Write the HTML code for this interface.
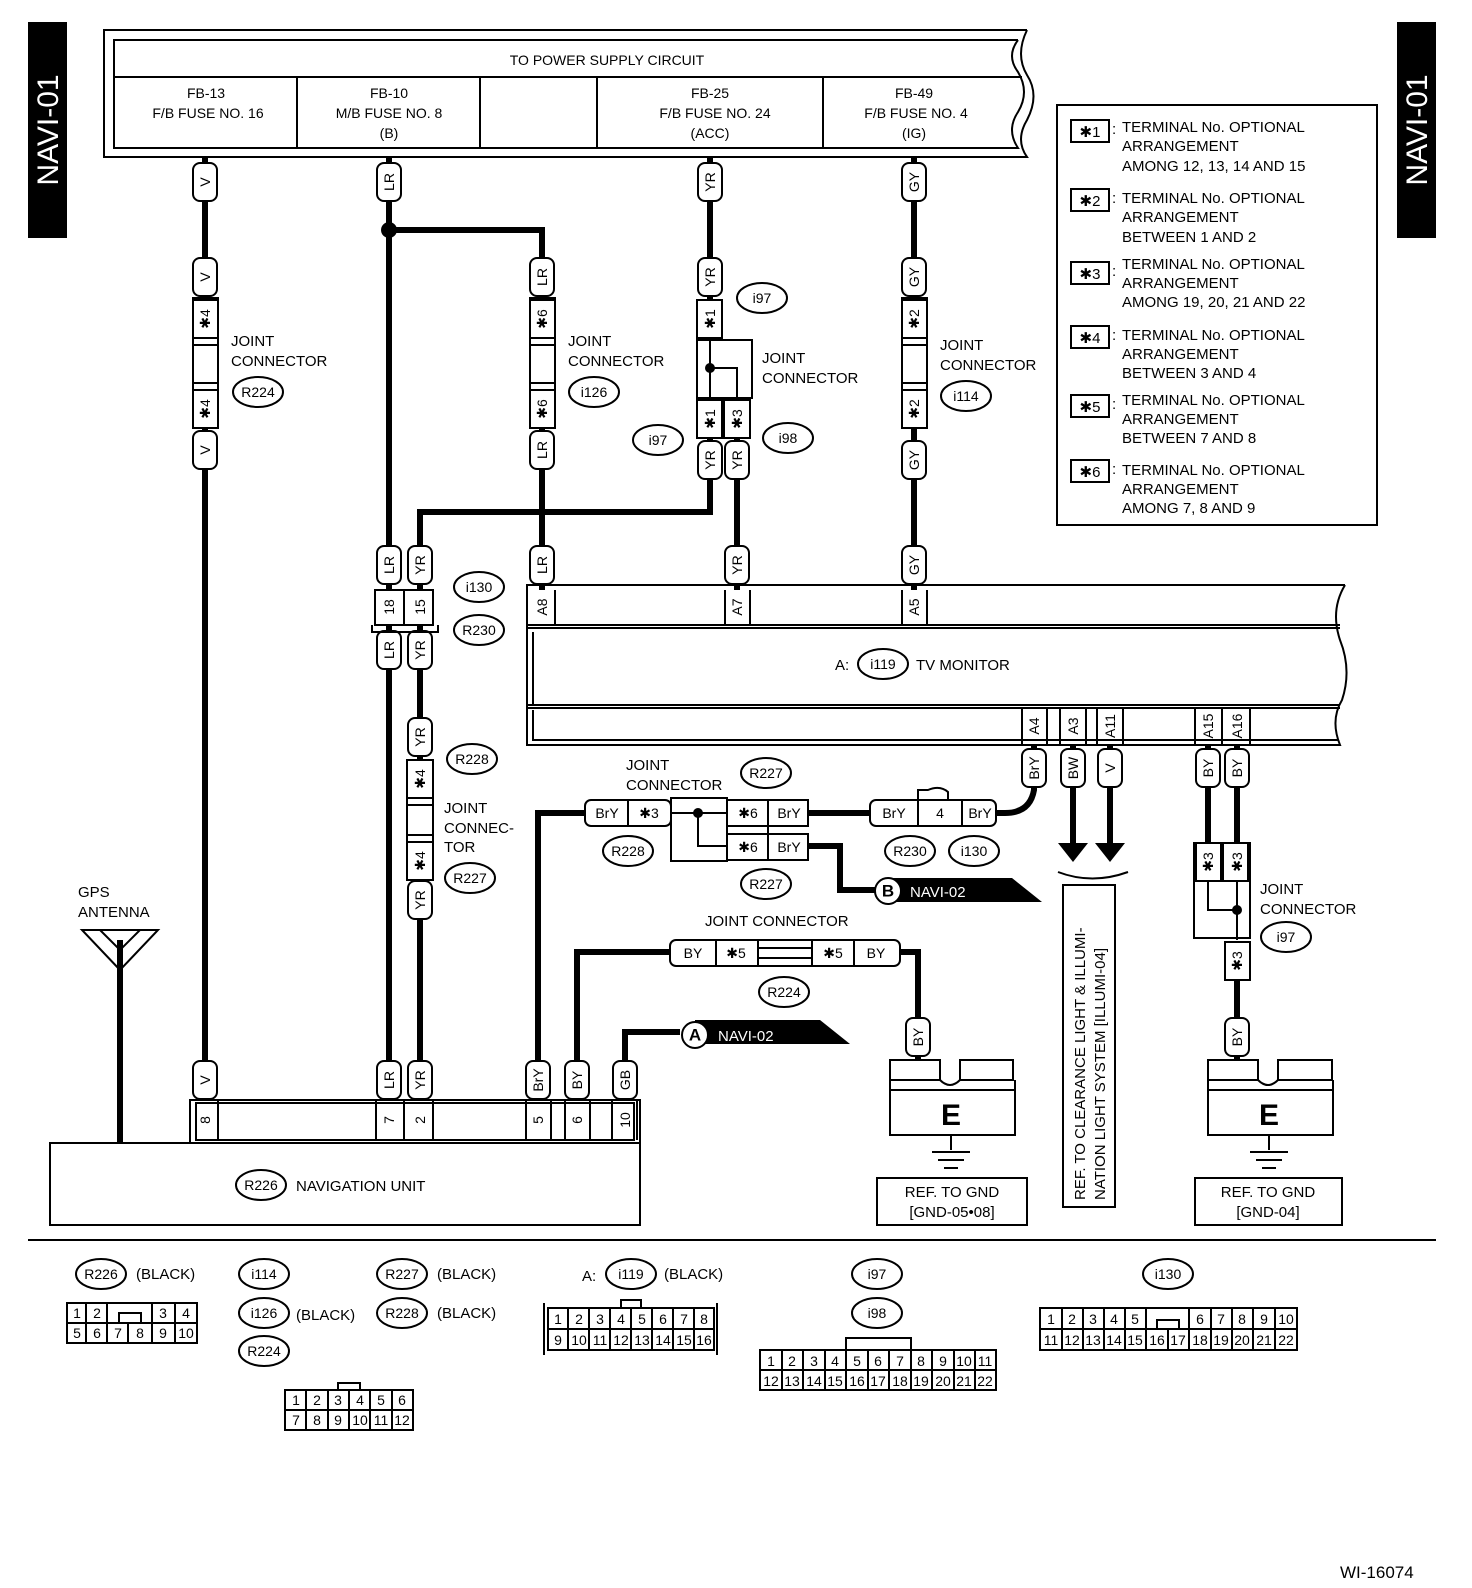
<!DOCTYPE html>
<html><head><meta charset="utf-8"><style>
html,body{margin:0;padding:0;background:#fff}
svg{display:block}
text{font-family:"Liberation Sans",sans-serif;fill:#000}
.w{stroke:#000;stroke-width:6;fill:none}
.l{stroke:#000;stroke-width:2;fill:none}
.b{stroke:#000;stroke-width:2;fill:#fff}
.s{font-size:15px}
.m{font-size:14px}
.lb{font-size:14px;text-anchor:middle;dominant-baseline:central}
</style></head><body>
<svg width="1472" height="1588" viewBox="0 0 1472 1588" xmlns="http://www.w3.org/2000/svg">
<defs>
<g id="tag"><rect x="-12" y="-19" width="24" height="38" rx="7" class="b"/></g>
<g id="ov"><ellipse cx="0" cy="0" rx="25" ry="15" class="b"/></g>
</defs>

<rect x="28" y="22" width="39" height="216" fill="#000"/>
<text transform="translate(58,130) rotate(-90)" style="font-size:30px;fill:#fff;text-anchor:middle">NAVI-01</text>
<rect x="1397" y="22" width="39" height="216" fill="#000"/>
<text transform="translate(1427,130) rotate(-90)" style="font-size:30px;fill:#fff;text-anchor:middle">NAVI-01</text>

<path class="l" d="M1027,30 H104 V157 H1027 Q1015,140 1027,120 Q1040,95 1027,75 Q1015,55 1027,30"/>
<path class="l" d="M1018,40 H114 V148 H1018 Q1006,130 1018,112 Q1030,92 1018,72 Q1006,56 1018,40"/>
<line class="l" x1="114" y1="77" x2="1022" y2="77"/>
<line class="l" x1="297" y1="77" x2="297" y2="148"/>
<line class="l" x1="480" y1="77" x2="480" y2="148"/>
<line class="l" x1="597" y1="77" x2="597" y2="148"/>
<line class="l" x1="823" y1="77" x2="823" y2="148"/>
<text x="607" y="65" class="m" text-anchor="middle">TO POWER SUPPLY CIRCUIT</text>
<g class="m" text-anchor="middle">
<text x="206" y="98">FB-13</text><text x="208" y="118">F/B FUSE NO. 16</text>
<text x="389" y="98">FB-10</text><text x="389" y="118">M/B FUSE NO. 8</text><text x="389" y="138">(B)</text>
<text x="710" y="98">FB-25</text><text x="715" y="118">F/B FUSE NO. 24</text><text x="710" y="138">(ACC)</text>
<text x="914" y="98">FB-49</text><text x="916" y="118">F/B FUSE NO. 4</text><text x="914" y="138">(IG)</text>
</g>

<path class="w" d="M205,157 V1100"/>
<path class="w" d="M389,157 V1100"/>
<path class="w" d="M389,230 H542 V590"/>
<circle cx="389" cy="230" r="8"/>
<path class="w" d="M710,157 V300"/>
<path class="w" d="M710,420 V512 H420 V1100"/>
<path class="w" d="M737,420 V590"/>
<path class="w" d="M914,157 V590"/>
<path class="w" d="M1034,745 V790 Q1030,813 1005,813 H990"/>
<path class="w" d="M870,813 H808"/>
<path class="w" d="M1073,745 V845"/>
<path class="w" d="M1110,745 V845"/>
<path class="w" d="M1208,745 V845"/>
<path class="w" d="M1237,745 V845"/>
<path class="w" d="M1237,980 V1060"/>
<path class="w" d="M538,1100 V813 H585"/>
<path class="w" d="M577,1100 V952 H670"/>
<path class="w" d="M625,1100 V1032 H680"/>
<path class="w" d="M808,846 H840 V890 H875"/>
<path class="w" d="M900,952 H918 V1060"/>
<path class="w" d="M120,940 V1143"/>
<path d="M1058,843 L1088,843 L1073,862Z"/>
<path d="M1095,843 L1125,843 L1110,862Z"/>
<path class="l" d="M1058,872 Q1092,885 1128,872"/>

<g class="lb">
<use href="#tag" x="205" y="182"/><text transform="translate(205,182) rotate(-90)">V</text>
<use href="#tag" x="205" y="277"/><text transform="translate(205,277) rotate(-90)">V</text>
<use href="#tag" x="205" y="450"/><text transform="translate(205,450) rotate(-90)">V</text>
<use href="#tag" x="205" y="1080"/><text transform="translate(205,1080) rotate(-90)">V</text>
<use href="#tag" x="389" y="182"/><text transform="translate(389,182) rotate(-90)">LR</text>
<use href="#tag" x="542" y="277"/><text transform="translate(542,277) rotate(-90)">LR</text>
<use href="#tag" x="542" y="450"/><text transform="translate(542,450) rotate(-90)">LR</text>
<use href="#tag" x="542" y="565"/><text transform="translate(542,565) rotate(-90)">LR</text>
<use href="#tag" x="389" y="565"/><text transform="translate(389,565) rotate(-90)">LR</text>
<use href="#tag" x="420" y="565"/><text transform="translate(420,565) rotate(-90)">YR</text>
<use href="#tag" x="389" y="650"/><text transform="translate(389,650) rotate(-90)">LR</text>
<use href="#tag" x="420" y="650"/><text transform="translate(420,650) rotate(-90)">YR</text>
<use href="#tag" x="420" y="737"/><text transform="translate(420,737) rotate(-90)">YR</text>
<use href="#tag" x="420" y="900"/><text transform="translate(420,900) rotate(-90)">YR</text>
<use href="#tag" x="389" y="1080"/><text transform="translate(389,1080) rotate(-90)">LR</text>
<use href="#tag" x="420" y="1080"/><text transform="translate(420,1080) rotate(-90)">YR</text>
<use href="#tag" x="710" y="182"/><text transform="translate(710,182) rotate(-90)">YR</text>
<use href="#tag" x="710" y="277"/><text transform="translate(710,277) rotate(-90)">YR</text>
<use href="#tag" x="710" y="460"/><text transform="translate(710,460) rotate(-90)">YR</text>
<use href="#tag" x="737" y="460"/><text transform="translate(737,460) rotate(-90)">YR</text>
<use href="#tag" x="737" y="565"/><text transform="translate(737,565) rotate(-90)">YR</text>
<use href="#tag" x="914" y="182"/><text transform="translate(914,182) rotate(-90)">GY</text>
<use href="#tag" x="914" y="277"/><text transform="translate(914,277) rotate(-90)">GY</text>
<use href="#tag" x="914" y="460"/><text transform="translate(914,460) rotate(-90)">GY</text>
<use href="#tag" x="914" y="565"/><text transform="translate(914,565) rotate(-90)">GY</text>
<use href="#tag" x="1034" y="768"/><text transform="translate(1034,768) rotate(-90)">BrY</text>
<use href="#tag" x="1073" y="768"/><text transform="translate(1073,768) rotate(-90)">BW</text>
<use href="#tag" x="1110" y="768"/><text transform="translate(1110,768) rotate(-90)">V</text>
<use href="#tag" x="1208" y="768"/><text transform="translate(1208,768) rotate(-90)">BY</text>
<use href="#tag" x="1237" y="768"/><text transform="translate(1237,768) rotate(-90)">BY</text>
<use href="#tag" x="1237" y="1037"/><text transform="translate(1237,1037) rotate(-90)">BY</text>
<use href="#tag" x="918" y="1037"/><text transform="translate(918,1037) rotate(-90)">BY</text>
<use href="#tag" x="538" y="1080"/><text transform="translate(538,1080) rotate(-90)">BrY</text>
<use href="#tag" x="577" y="1080"/><text transform="translate(577,1080) rotate(-90)">BY</text>
<use href="#tag" x="625" y="1080"/><text transform="translate(625,1080) rotate(-90)">GB</text>
</g>

<g class="l">
<rect x="193" y="298" width="25" height="130" fill="#fff"/><rect x="193" y="300" width="25" height="38"/><rect x="193" y="390" width="25" height="38"/>
<line x1="193" y1="345" x2="218" y2="345"/><line x1="193" y1="383" x2="218" y2="383"/>
<rect x="530" y="298" width="25" height="130" fill="#fff"/><rect x="530" y="300" width="25" height="38"/><rect x="530" y="390" width="25" height="38"/>
<line x1="530" y1="345" x2="555" y2="345"/><line x1="530" y1="383" x2="555" y2="383"/>
<rect x="902" y="298" width="25" height="130" fill="#fff"/><rect x="902" y="300" width="25" height="38"/><rect x="902" y="390" width="25" height="38"/>
<line x1="902" y1="345" x2="927" y2="345"/><line x1="902" y1="383" x2="927" y2="383"/>
<rect x="697" y="300" width="25" height="38" fill="#fff"/>
<rect x="697" y="340" width="55" height="58" fill="#fff"/>
<rect x="697" y="400" width="25" height="38" fill="#fff"/><rect x="724" y="400" width="26" height="38" fill="#fff"/>
<path d="M710,338 V400 M710,368 H737 V400"/>
<rect x="407" y="760" width="26" height="120" fill="#fff"/><rect x="407" y="760" width="26" height="38"/><rect x="407" y="842" width="26" height="38"/>
<line x1="407" y1="805" x2="433" y2="805"/><line x1="407" y1="835" x2="433" y2="835"/>
<rect x="1194" y="843" width="56" height="95" fill="#fff"/><rect x="1196" y="843" width="25" height="38"/><rect x="1223" y="843" width="25" height="38"/>
<path d="M1208,881 V910 H1237 M1237,881 V940"/>
<rect x="1225" y="942" width="25" height="38" fill="#fff"/>
<rect x="585" y="800" width="86" height="26" rx="6" fill="#fff"/><line x1="628" y1="800" x2="628" y2="826"/>
<rect x="671" y="798" width="56" height="63" fill="#fff"/>
<rect x="727" y="800" width="81" height="26" fill="#fff"/><rect x="727" y="834" width="81" height="26" fill="#fff"/>
<line x1="768" y1="800" x2="768" y2="860"/>
<path d="M671,813 H727 M698,813 V846 H727"/>
<rect x="870" y="800" width="126" height="26" rx="6" fill="#fff"/><path d="M918,800 V790 H928 Q940,785 948,792 V800 M918,800 V826 M962,800 V826"/>
<rect x="670" y="940" width="230" height="26" rx="6" fill="#fff"/><path d="M716,940 V966 M758,940 V966 M812,940 V966 M854,940 V966 M758,948 H812 M758,958 H812"/>
</g>
<circle cx="710" cy="368" r="5"/><circle cx="698" cy="813" r="5"/><circle cx="1237" cy="910" r="5"/>
<g class="lb">
<text transform="translate(205,319) rotate(-90)">✱4</text><text transform="translate(205,409) rotate(-90)">✱4</text>
<text transform="translate(542,319) rotate(-90)">✱6</text><text transform="translate(542,409) rotate(-90)">✱6</text>
<text transform="translate(914,319) rotate(-90)">✱2</text><text transform="translate(914,409) rotate(-90)">✱2</text>
<text transform="translate(710,319) rotate(-90)">✱1</text><text transform="translate(710,419) rotate(-90)">✱1</text><text transform="translate(737,419) rotate(-90)">✱3</text>
<text transform="translate(420,779) rotate(-90)">✱4</text><text transform="translate(420,861) rotate(-90)">✱4</text>
<text transform="translate(1208,862) rotate(-90)">✱3</text><text transform="translate(1237,862) rotate(-90)">✱3</text><text transform="translate(1237,961) rotate(-90)">✱3</text>
<text x="607" y="813">BrY</text><text x="649" y="813">✱3</text>
<text x="748" y="813">✱6</text><text x="789" y="813">BrY</text>
<text x="748" y="847">✱6</text><text x="789" y="847">BrY</text>
<text x="894" y="813">BrY</text><text x="940" y="813">4</text><text x="980" y="813">BrY</text>
<text x="693" y="953">BY</text><text x="736" y="953">✱5</text><text x="833" y="953">✱5</text><text x="876" y="953">BY</text>
</g>

<rect x="375" y="590" width="58" height="35" class="b"/><line class="l" x1="404" y1="590" x2="404" y2="625"/>
<path class="l" d="M372,625 V632 H438 V625"/>
<g class="lb"><text transform="translate(389,607) rotate(-90)">18</text><text transform="translate(420,607) rotate(-90)">15</text></g>

<path class="l" d="M1345,585 H527 V745 H1340 Q1330,720 1342,700 Q1352,670 1340,640 Q1330,610 1345,585"/>
<line class="l" x1="527" y1="625" x2="1340" y2="625"/>
<line class="l" x1="527" y1="705" x2="1340" y2="705"/>
<path class="l" d="M533,632 V705 M533,710 V740 H1338"/>
<line class="l" x1="527" y1="628" x2="1340" y2="628"/><line class="l" x1="527" y1="708" x2="1340" y2="708"/>
<g class="l"><path d="M555,590 V625 M725,590 V625 M750,590 V625 M902,590 V625 M927,590 V625"/>
<path d="M1022,708 V745 M1047,708 V745 M1060,708 V745 M1086,708 V745 M1097,708 V745 M1123,708 V745 M1195,708 V745 M1222,708 V745 M1250,708 V745"/></g>
<g class="lb">
<text transform="translate(542,607) rotate(-90)">A8</text><text transform="translate(737,607) rotate(-90)">A7</text><text transform="translate(914,607) rotate(-90)">A5</text>
<text transform="translate(1034,726) rotate(-90)">A4</text><text transform="translate(1073,726) rotate(-90)">A3</text><text transform="translate(1110,726) rotate(-90)">A11</text>
<text transform="translate(1208,726) rotate(-90)">A15</text><text transform="translate(1237,726) rotate(-90)">A16</text>
</g>
<text x="835" y="670" class="s">A:</text><use href="#ov" x="883" y="664"/><text x="883" y="669" class="m" text-anchor="middle">i119</text>
<text x="916" y="670" class="s">TV MONITOR</text>

<rect x="50" y="1143" width="590" height="82" class="b"/>
<rect x="190" y="1100" width="450" height="43" class="b"/><rect x="196" y="1103" width="438" height="37" class="l"/>
<path class="l" d="M218,1100 V1140 M376,1100 V1140 M404,1100 V1140 M433,1100 V1140 M526,1100 V1140 M551,1100 V1140 M565,1100 V1140 M590,1100 V1140 M612,1100 V1140 M637,1100 V1140"/>
<g class="lb"><text transform="translate(205,1120) rotate(-90)">8</text><text transform="translate(389,1120) rotate(-90)">7</text><text transform="translate(420,1120) rotate(-90)">2</text><text transform="translate(538,1120) rotate(-90)">5</text><text transform="translate(577,1120) rotate(-90)">6</text><text transform="translate(625,1120) rotate(-90)">10</text></g>
<use href="#ov" x="261" y="1185"/><text x="261" y="1190" class="m" text-anchor="middle">R226</text>
<text x="296" y="1191" class="s">NAVIGATION UNIT</text>

<text x="78" y="897" class="s">GPS</text><text x="78" y="917" class="s">ANTENNA</text>
<path class="l" d="M82,930 H158 L120,970 Z M100,930 L120,950 L140,930"/>

<path d="M695,1020 H820 L850,1044 H695 Z"/><circle cx="695" cy="1035" r="13" class="b"/><text x="695" y="1035" class="lb" style="font-size:17px;font-weight:bold">A</text><text x="718" y="1041" style="font-size:15px;fill:#fff">NAVI-02</text>
<path d="M888,878 H1012 L1042,902 H888 Z"/><circle cx="888" cy="891" r="13" class="b"/><text x="888" y="891" class="lb" style="font-size:17px;font-weight:bold">B</text><text x="910" y="897" style="font-size:15px;fill:#fff">NAVI-02</text>

<g class="m" text-anchor="middle">
<use href="#ov" x="258" y="392"/><text x="258" y="397">R224</text>
<use href="#ov" x="594" y="392"/><text x="594" y="397">i126</text>
<use href="#ov" x="762" y="298"/><text x="762" y="303">i97</text>
<use href="#ov" x="658" y="440"/><text x="658" y="445">i97</text>
<use href="#ov" x="788" y="438"/><text x="788" y="443">i98</text>
<use href="#ov" x="966" y="396"/><text x="966" y="401">i114</text>
<use href="#ov" x="479" y="587"/><text x="479" y="592">i130</text>
<use href="#ov" x="479" y="630"/><text x="479" y="635">R230</text>
<use href="#ov" x="472" y="759"/><text x="472" y="764">R228</text>
<use href="#ov" x="470" y="878"/><text x="470" y="883">R227</text>
<use href="#ov" x="766" y="773"/><text x="766" y="778">R227</text>
<use href="#ov" x="628" y="851"/><text x="628" y="856">R228</text>
<use href="#ov" x="766" y="884"/><text x="766" y="889">R227</text>
<use href="#ov" x="910" y="851"/><text x="910" y="856">R230</text>
<use href="#ov" x="974" y="851"/><text x="974" y="856">i130</text>
<use href="#ov" x="784" y="992"/><text x="784" y="997">R224</text>
<use href="#ov" x="1286" y="937"/><text x="1286" y="942">i97</text>
</g>
<g class="s">
<text x="231" y="346">JOINT</text><text x="231" y="366">CONNECTOR</text>
<text x="568" y="346">JOINT</text><text x="568" y="366">CONNECTOR</text>
<text x="762" y="363">JOINT</text><text x="762" y="383">CONNECTOR</text>
<text x="940" y="350">JOINT</text><text x="940" y="370">CONNECTOR</text>
<text x="444" y="813">JOINT</text><text x="444" y="833">CONNEC-</text><text x="444" y="852">TOR</text>
<text x="626" y="770">JOINT</text><text x="626" y="790">CONNECTOR</text>
<text x="705" y="926">JOINT CONNECTOR</text>
<text x="1260" y="894">JOINT</text><text x="1260" y="914">CONNECTOR</text>
</g>

<g class="l">
<path d="M890,1060 H940 V1080 H890 Z M960,1060 H1013 V1080 H960 Z" fill="#fff"/>
<path d="M890,1080 V1135 H1015 V1080 M940,1080 Q950,1090 960,1080 M890,1090 H1015 M951,1135 V1150"/>
<path d="M932,1152 H970 M938,1160 H964 M944,1168 H958"/>
<path d="M1208,1060 H1258 V1080 H1208 Z M1278,1060 H1332 V1080 H1278 Z" fill="#fff"/>
<path d="M1208,1080 V1135 H1333 V1080 M1258,1080 Q1268,1090 1278,1080 M1208,1090 H1333 M1269,1135 V1150"/>
<path d="M1250,1152 H1288 M1256,1160 H1282 M1262,1168 H1276"/>
</g>
<text x="951" y="1125" style="font-size:30px;font-weight:bold" text-anchor="middle">E</text>
<text x="1269" y="1125" style="font-size:30px;font-weight:bold" text-anchor="middle">E</text>
<rect x="877" y="1178" width="150" height="47" class="b"/><text x="952" y="1197" class="s" text-anchor="middle">REF. TO GND</text><text x="952" y="1217" class="s" text-anchor="middle">[GND-05•08]</text>
<rect x="1195" y="1178" width="147" height="47" class="b"/><text x="1268" y="1197" class="s" text-anchor="middle">REF. TO GND</text><text x="1268" y="1217" class="s" text-anchor="middle">[GND-04]</text>
<rect x="1063" y="885" width="52" height="322" class="b"/>
<text transform="translate(1085,1200) rotate(-90)" class="s">REF. TO CLEARANCE LIGHT &amp; ILLUMI-</text>
<text transform="translate(1105,1200) rotate(-90)" class="s">NATION LIGHT SYSTEM [ILLUMI-04]</text>

<rect x="1057" y="105" width="320" height="420" class="b"/>
<g class="s">
<rect x="1071" y="120" width="38" height="22" class="l"/><text x="1090" y="137" text-anchor="middle">✱1</text><text x="1112" y="134">:</text>
<text x="1122" y="132">TERMINAL No. OPTIONAL</text><text x="1122" y="151">ARRANGEMENT</text><text x="1122" y="171">AMONG 12, 13, 14  AND 15</text>
<rect x="1071" y="189" width="38" height="22" class="l"/><text x="1090" y="206" text-anchor="middle">✱2</text><text x="1112" y="203">:</text>
<text x="1122" y="203">TERMINAL No. OPTIONAL</text><text x="1122" y="222">ARRANGEMENT</text><text x="1122" y="242">BETWEEN 1 AND 2</text>
<rect x="1071" y="262" width="38" height="22" class="l"/><text x="1090" y="279" text-anchor="middle">✱3</text><text x="1112" y="276">:</text>
<text x="1122" y="269">TERMINAL No. OPTIONAL</text><text x="1122" y="288">ARRANGEMENT</text><text x="1122" y="307">AMONG 19, 20, 21  AND 22</text>
<rect x="1071" y="326" width="38" height="22" class="l"/><text x="1090" y="343" text-anchor="middle">✱4</text><text x="1112" y="340">:</text>
<text x="1122" y="340">TERMINAL No. OPTIONAL</text><text x="1122" y="359">ARRANGEMENT</text><text x="1122" y="378">BETWEEN 3 AND 4</text>
<rect x="1071" y="395" width="38" height="22" class="l"/><text x="1090" y="412" text-anchor="middle">✱5</text><text x="1112" y="409">:</text>
<text x="1122" y="405">TERMINAL No. OPTIONAL</text><text x="1122" y="424">ARRANGEMENT</text><text x="1122" y="443">BETWEEN 7 AND 8</text>
<rect x="1071" y="460" width="38" height="22" class="l"/><text x="1090" y="477" text-anchor="middle">✱6</text><text x="1112" y="474">:</text>
<text x="1122" y="475">TERMINAL No. OPTIONAL</text><text x="1122" y="494">ARRANGEMENT</text><text x="1122" y="513">AMONG 7, 8  AND 9</text>
</g>

<line x1="28" y1="1240" x2="1436" y2="1240" class="l"/>

<g class="m" text-anchor="middle">
<use href="#ov" x="101" y="1274"/><text x="101" y="1279">R226</text>
<use href="#ov" x="264" y="1274"/><text x="264" y="1279">i114</text>
<use href="#ov" x="264" y="1313"/><text x="264" y="1318">i126</text>
<use href="#ov" x="264" y="1351"/><text x="264" y="1356">R224</text>
<use href="#ov" x="402" y="1274"/><text x="402" y="1279">R227</text>
<use href="#ov" x="402" y="1313"/><text x="402" y="1318">R228</text>
<use href="#ov" x="631" y="1274"/><text x="631" y="1279">i119</text>
<use href="#ov" x="877" y="1274"/><text x="877" y="1279">i97</text>
<use href="#ov" x="877" y="1313"/><text x="877" y="1318">i98</text>
<use href="#ov" x="1168" y="1274"/><text x="1168" y="1279">i130</text>
</g>
<g class="s"><text x="136" y="1279">(BLACK)</text><text x="296" y="1320">(BLACK)</text><text x="437" y="1279">(BLACK)</text><text x="437" y="1318">(BLACK)</text><text x="582" y="1281">A:</text><text x="664" y="1279">(BLACK)</text></g>

<g class="l" fill="#fff">
<rect x="67" y="1303" width="130" height="40"/><path d="M67,1323 H197 M86,1303 V1343 M107,1303 V1343 M128,1323 V1343 M152,1303 V1343 M175,1303 V1343 M107,1323 H152"/>
<path d="M119,1323 V1313 H141 V1323" />
<rect x="285" y="1390" width="128" height="40"/><path d="M285,1410 H413 M306,1390 V1430 M328,1390 V1430 M349,1390 V1430 M370,1390 V1430 M392,1390 V1430 M338,1390 V1383 H360 V1390"/>
<path d="M544,1303 V1355 M717,1303 V1355"/>
<rect x="548" y="1308" width="166" height="42"/><path d="M548,1329 H714 M568,1308 V1350 M589,1308 V1350 M610,1308 V1350 M631,1308 V1350 M652,1308 V1350 M673,1308 V1350 M694,1308 V1350 M621,1308 V1300 H641 V1308"/>
<rect x="760" y="1350" width="236" height="40"/><path d="M760,1370 H996 M782,1350 V1390 M803,1350 V1390 M825,1350 V1390 M846,1350 V1390 M868,1350 V1390 M889,1350 V1390 M911,1350 V1390 M932,1350 V1390 M954,1350 V1390 M975,1350 V1390 M846,1350 V1338 H911 V1350"/>
<rect x="1040" y="1308" width="257" height="42"/><path d="M1040,1329 H1297 M1062,1308 V1350 M1083,1308 V1350 M1104,1308 V1350 M1125,1308 V1350 M1146,1308 V1350 M1168,1329 V1350 M1189,1308 V1350 M1211,1308 V1350 M1232,1308 V1350 M1253,1308 V1350 M1275,1308 V1350 M1146,1329 H1189 M1157,1329 V1320 H1179 V1329"/>
</g>
<g class="m" text-anchor="middle">
<text x="77" y="1318">1</text><text x="97" y="1318">2</text><text x="163" y="1318">3</text><text x="186" y="1318">4</text>
<text x="77" y="1338">5</text><text x="97" y="1338">6</text><text x="118" y="1338">7</text><text x="140" y="1338">8</text><text x="163" y="1338">9</text><text x="186" y="1338">10</text>
<text x="296" y="1405">1</text><text x="317" y="1405">2</text><text x="338" y="1405">3</text><text x="360" y="1405">4</text><text x="381" y="1405">5</text><text x="402" y="1405">6</text>
<text x="296" y="1425">7</text><text x="317" y="1425">8</text><text x="338" y="1425">9</text><text x="360" y="1425">10</text><text x="381" y="1425">11</text><text x="402" y="1425">12</text>
<text x="558" y="1324">1</text><text x="579" y="1324">2</text><text x="600" y="1324">3</text><text x="621" y="1324">4</text><text x="642" y="1324">5</text><text x="663" y="1324">6</text><text x="684" y="1324">7</text><text x="704" y="1324">8</text>
<text x="558" y="1345">9</text><text x="579" y="1345">10</text><text x="600" y="1345">11</text><text x="621" y="1345">12</text><text x="642" y="1345">13</text><text x="663" y="1345">14</text><text x="684" y="1345">15</text><text x="704" y="1345">16</text>
<text x="771" y="1366">1</text><text x="792" y="1366">2</text><text x="814" y="1366">3</text><text x="835" y="1366">4</text><text x="857" y="1366">5</text><text x="878" y="1366">6</text><text x="900" y="1366">7</text><text x="921" y="1366">8</text><text x="943" y="1366">9</text><text x="964" y="1366">10</text><text x="985" y="1366">11</text>
<text x="771" y="1386">12</text><text x="792" y="1386">13</text><text x="814" y="1386">14</text><text x="835" y="1386">15</text><text x="857" y="1386">16</text><text x="878" y="1386">17</text><text x="900" y="1386">18</text><text x="921" y="1386">19</text><text x="943" y="1386">20</text><text x="964" y="1386">21</text><text x="985" y="1386">22</text>
<text x="1051" y="1324">1</text><text x="1072" y="1324">2</text><text x="1093" y="1324">3</text><text x="1114" y="1324">4</text><text x="1135" y="1324">5</text><text x="1200" y="1324">6</text><text x="1221" y="1324">7</text><text x="1242" y="1324">8</text><text x="1264" y="1324">9</text><text x="1286" y="1324">10</text>
<text x="1051" y="1345">11</text><text x="1072" y="1345">12</text><text x="1093" y="1345">13</text><text x="1114" y="1345">14</text><text x="1135" y="1345">15</text><text x="1157" y="1345">16</text><text x="1178" y="1345">17</text><text x="1200" y="1345">18</text><text x="1221" y="1345">19</text><text x="1242" y="1345">20</text><text x="1264" y="1345">21</text><text x="1286" y="1345">22</text>
</g>
<text x="1340" y="1578" style="font-size:17px">WI-16074</text>
</svg>
</body></html>
